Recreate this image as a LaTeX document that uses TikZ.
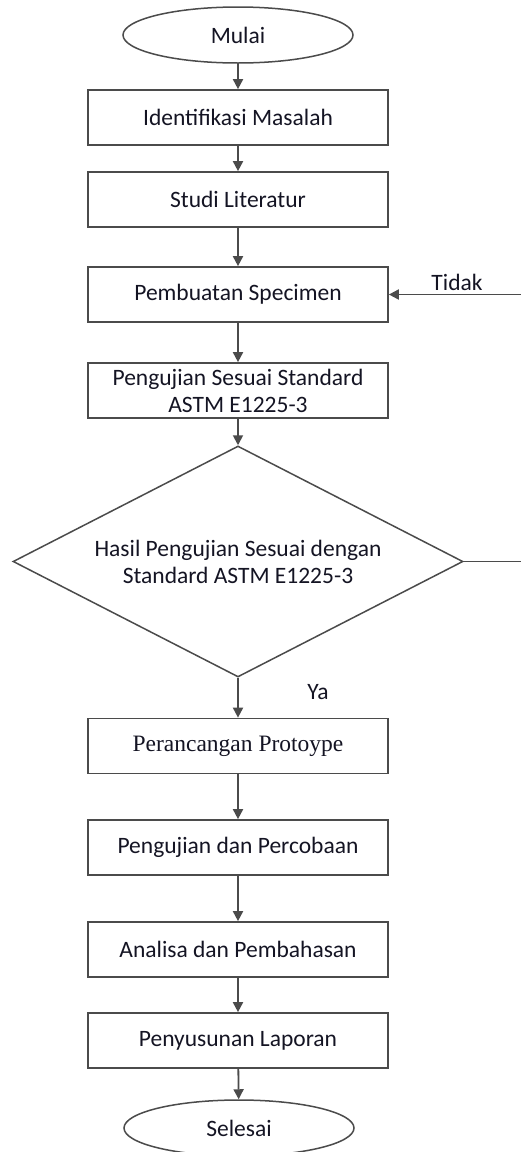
\documentclass[tikz,border=0pt]{standalone}
\usepackage{fontspec}
\setmainfont{Carlito}
\newfontfamily\timesfont{Liberation Serif}
\usetikzlibrary{shapes.geometric,arrows.meta}
\definecolor{linegray}{RGB}{75,75,75}
\definecolor{txt}{RGB}{20,20,35}
\tikzset{
  box/.style={draw=linegray, line width=1.7pt, minimum width=300pt, minimum height=55pt,
    inner sep=0pt, align=center, text=txt, font=\fontsize{23.5}{27}\selectfont},
  term/.style={draw=linegray, ellipse, line width=1.5pt, minimum width=230pt, minimum height=56pt,
    inner sep=0pt, text=txt, font=\fontsize{23.5}{27}\selectfont},
  dec/.style={draw=linegray, diamond, aspect=1.95, line width=1.5pt, minimum width=450pt,
    minimum height=231pt, inner sep=0pt, align=center, text=txt, font=\fontsize{23.5}{27}\selectfont},
  lbl/.style={text=txt, font=\fontsize{23.5}{27}\selectfont},
  flow/.style={draw=linegray, line width=1.8pt, -{Triangle[length=10pt,width=10pt]}},
  link/.style={draw=linegray, line width=1.8pt}
}
\begin{document}
\begin{tikzpicture}[x=1pt, y=-1pt]
  \useasboundingbox (0,0) rectangle (521,1152);

  \node[term] (mulai) at (238,35) {Mulai};
  \node[box] (ident) at (238,117.5) {Identifikasi Masalah};
  \node[box] (studi) at (238,199.5) {Studi Literatur};
  \node[box] (spec) at (238,294.5) {Pembuatan Specimen};
  \node[box] (uji) at (238,390.5) {Pengujian Sesuai Standard\\ASTM E1225-3};
  \node[dec] (hasil) at (238,561.5) {Hasil Pengujian Sesuai dengan\\Standard ASTM E1225-3};
  \node[box, font=\timesfont\fontsize{23.5}{27}\selectfont] (rancang) at (238,746) {Perancangan Protoype};
  \node[box] (coba) at (238,847.5) {Pengujian dan Percobaan};
  \node[box] (analisa) at (238,949.5) {Analisa dan Pembahasan};
  \node[box] (lapor) at (238,1040.5) {Penyusunan Laporan};
  \node[term] (selesai) at (239,1128) {Selesai};

  \foreach \a/\b in {mulai/ident, ident/studi, studi/spec, spec/uji, uji/hasil,
                     hasil/rancang, rancang/coba, coba/analisa, analisa/lapor, lapor/selesai}
  \draw[flow] (\a) -- (\b);

  % jalur Tidak kembali ke pembuatan specimen
  \coordinate (kanan1) at (521,561.5);
  \coordinate (kanan2) at (521,294.5);
  \draw[link] (hasil.east) -- (kanan1);
  \draw[flow] (kanan2) -- (spec.east);

  \node[lbl] (tidak) at (457,282) {Tidak};
  \node[lbl] (ya) at (318,692) {Ya};
\end{tikzpicture}
\end{document}
